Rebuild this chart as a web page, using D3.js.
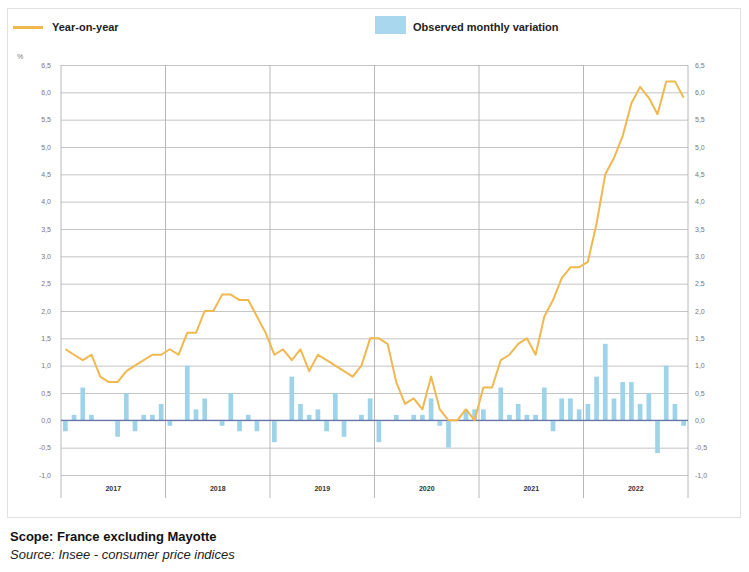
<!DOCTYPE html>
<html>
<head>
<meta charset="utf-8">
<script src="https://cdn.jsdelivr.net/npm/d3@7"></script>
<style>
  body { margin: 0; background: #fff; font-family: "Liberation Sans", Arial, sans-serif; }
  .tick text { fill: #777; font-size: 7px; }
</style>
</head>
<body>
<div id="chart"></div>
<script>
var years = ["2017", "2018", "2019", "2020", "2021", "2022"];

// year-on-year change, %, Jan 2017 .. Dec 2022
var yoy = [
  1.3, 1.2, 1.1, 1.2, 0.8, 0.7, 0.7, 0.9, 1.0, 1.1, 1.2, 1.2,
  1.3, 1.2, 1.6, 1.6, 2.0, 2.0, 2.3, 2.3, 2.2, 2.2, 1.9, 1.6,
  1.2, 1.3, 1.1, 1.3, 0.9, 1.2, 1.1, 1.0, 0.9, 0.8, 1.0, 1.5,
  1.5, 1.4, 0.7, 0.3, 0.4, 0.2, 0.8, 0.2, 0.0, 0.0, 0.2, 0.0,
  0.6, 0.6, 1.1, 1.2, 1.4, 1.5, 1.2, 1.9, 2.2, 2.6, 2.8, 2.8,
  2.9, 3.6, 4.5, 4.8, 5.2, 5.8, 6.1, 5.9, 5.6, 6.2, 6.2, 5.9
];

// observed monthly variation, %
var mom = [
  -0.2, 0.1, 0.6, 0.1, 0.0, 0.0, -0.3, 0.5, -0.2, 0.1, 0.1, 0.3,
  -0.1, 0.0, 1.0, 0.2, 0.4, 0.0, -0.1, 0.5, -0.2, 0.1, -0.2, 0.0,
  -0.4, 0.0, 0.8, 0.3, 0.1, 0.2, -0.2, 0.5, -0.3, 0.0, 0.1, 0.4,
  -0.4, 0.0, 0.1, 0.0, 0.1, 0.1, 0.4, -0.1, -0.5, 0.0, 0.2, 0.2,
  0.2, 0.0, 0.6, 0.1, 0.3, 0.1, 0.1, 0.6, -0.2, 0.4, 0.4, 0.2,
  0.3, 0.8, 1.4, 0.4, 0.7, 0.7, 0.3, 0.5, -0.6, 1.0, 0.3, -0.1
];

var yTicks = [-1, -0.5, 0, 0.5, 1, 1.5, 2, 2.5, 3, 3.5, 4, 4.5, 5, 5.5, 6, 6.5];

var W = 749, H = 572;
var margin = {top: 65, left: 61, right: 61, bottom: 97},
  width = W - margin.left - margin.right,
  height = H - margin.top - margin.bottom;

var svg = d3.select("#chart").append("svg")
  .attr("width", W)
  .attr("height", H);

// outer frame
svg.append("rect")
  .attr("x", 7.5).attr("y", 8.5)
  .attr("width", 733).attr("height", 509)
  .attr("fill", "#fff")
  .attr("stroke", "#e2e2e2");

var g = svg.append("g")
  .attr("transform", "translate(" + margin.left + "," + margin.top + ")");

var months = d3.range(yoy.length);

var x = d3.scaleBand()
  .domain(months)
  .range([0, width])
  .paddingInner(0.46)
  .paddingOuter(0.23);

var xYear = d3.scaleBand()
  .domain(years)
  .range([0, width]);

var y = d3.scaleLinear()
  .domain([-1, 6.5])
  .range([height, 0]);

var fmt = function(d) { return d3.format(".1f")(d).replace(".", ",").replace("−", "-"); };

// horizontal grid + left labels
var yl = g.append("g")
  .call(d3.axisLeft(y).tickValues(yTicks).tickFormat(fmt).tickSize(-width).tickPadding(10));
yl.select(".domain").remove();
yl.selectAll(".tick line").attr("stroke", "#c4c4c4");

// right labels
var yr = g.append("g")
  .attr("transform", "translate(" + width + ",0)")
  .call(d3.axisRight(y).tickValues(yTicks).tickFormat(fmt).tickSize(0).tickPadding(7));
yr.select(".domain").remove();

// year separators
var bounds = years.map(function(d) { return xYear(d); }).concat([width]);
g.selectAll(".ysep")
  .data(bounds)
  .enter().append("line")
  .attr("x1", function(d) { return d; })
  .attr("x2", function(d) { return d; })
  .attr("y1", 0)
  .attr("y2", height + 23)
  .attr("stroke", "#b8b8b8");

// year labels
g.selectAll(".ylab")
  .data(years)
  .enter().append("text")
  .attr("x", function(d) { return xYear(d) + xYear.bandwidth() / 2; })
  .attr("y", height + 16)
  .attr("text-anchor", "middle")
  .attr("font-size", "7px")
  .attr("font-weight", "bold")
  .attr("fill", "#333")
  .text(function(d) { return d; });

// bars
g.selectAll(".bar")
  .data(months)
  .enter().append("rect")
  .attr("x", function(i) { return x(i); })
  .attr("y", function(i) { return y(Math.max(0, mom[i])); })
  .attr("width", x.bandwidth())
  .attr("height", function(i) { return Math.abs(y(mom[i]) - y(0)); })
  .attr("fill", "#9fd3ea");

// zero line
g.append("line")
  .attr("x1", 0).attr("x2", width)
  .attr("y1", y(0)).attr("y2", y(0))
  .attr("stroke", "#6675ad")
  .attr("stroke-width", 1.2);

// year-on-year line
var line = d3.line()
  .x(function(i) { return x(i) + x.bandwidth() / 2; })
  .y(function(i) { return y(yoy[i]); });

g.append("path")
  .datum(months)
  .attr("d", line)
  .attr("fill", "none")
  .attr("stroke", "#f0b84f")
  .attr("stroke-width", 2)
  .attr("stroke-linejoin", "round");

// unit
svg.append("text")
  .attr("x", 17).attr("y", 59)
  .attr("font-size", "7px")
  .attr("fill", "#777")
  .text("%");

// legend
svg.append("line")
  .attr("x1", 13).attr("x2", 43)
  .attr("y1", 27.5).attr("y2", 27.5)
  .attr("stroke", "#f0b84f")
  .attr("stroke-width", 3);
svg.append("text")
  .attr("x", 52).attr("y", 31)
  .attr("font-size", "11px")
  .attr("font-weight", "bold")
  .attr("fill", "#222")
  .text("Year-on-year");

svg.append("rect")
  .attr("x", 375).attr("y", 16)
  .attr("width", 31).attr("height", 18)
  .attr("fill", "#a9d8ee");
svg.append("text")
  .attr("x", 413).attr("y", 31)
  .attr("font-size", "11px")
  .attr("font-weight", "bold")
  .attr("fill", "#222")
  .text("Observed monthly variation");

// footer
svg.append("text")
  .attr("x", 10).attr("y", 541)
  .attr("font-size", "13px")
  .attr("font-weight", "bold")
  .attr("fill", "#111")
  .text("Scope: France excluding Mayotte");
svg.append("text")
  .attr("x", 10).attr("y", 559)
  .attr("font-size", "13px")
  .attr("font-style", "italic")
  .attr("fill", "#222")
  .text("Source: Insee - consumer price indices");
</script>
</body>
</html>
